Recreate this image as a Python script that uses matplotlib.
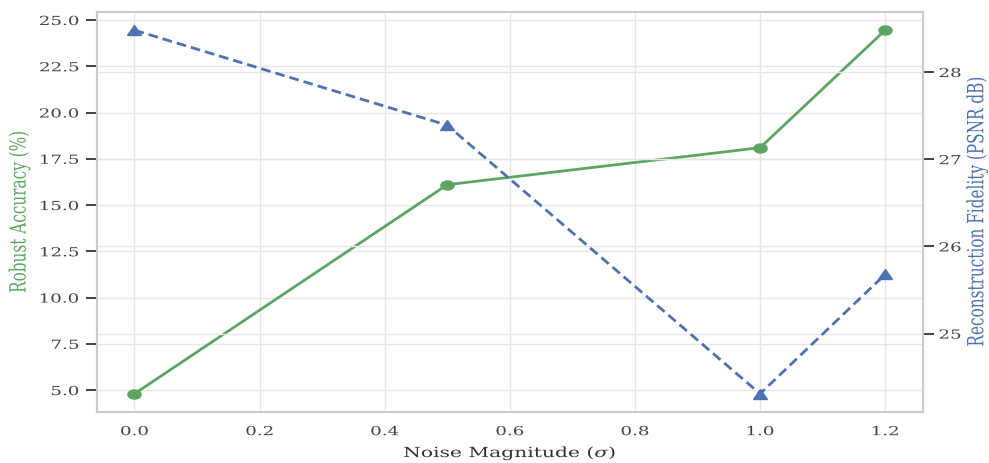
import matplotlib
matplotlib.use('Agg')
import matplotlib.pyplot as plt
from matplotlib import patheffects
from matplotlib.markers import MarkerStyle
from matplotlib.transforms import Affine2D

# data
noise = [0.0, 0.5, 1.0, 1.2]
robust_acc = [4.8, 16.1, 18.1, 24.45]
psnr = [28.48, 27.39, 24.31, 25.68]

GREEN = '#5ca661'
BLUE = '#4C72B0'
SX = 1.46  # the reference is stretched sideways


class StretchX(patheffects.AbstractPathEffect):
    def __init__(self, anchor='center', sx=SX):
        super().__init__()
        self.anchor = anchor
        self.sx = sx

    def draw_path(self, renderer, gc, tpath, affine, rgbFace=None):
        ext = tpath.get_extents(affine)
        if self.anchor == 'left':
            x0 = ext.x0
        elif self.anchor == 'right':
            x0 = ext.x1
        else:
            x0 = (ext.x0 + ext.x1) / 2
        affine = affine + Affine2D().translate(-x0, 0).scale(self.sx, 1).translate(x0, 0)
        renderer.draw_path(gc, tpath, affine, rgbFace)


plt.rcParams['font.family'] = ['DejaVu Serif']
plt.rcParams['mathtext.fontset'] = 'dejavuserif'

fig = plt.figure(figsize=(9.89, 4.64), dpi=100)
ax = fig.add_axes([0.098, 0.110, 0.835, 0.862])
ax2 = ax.twinx()

circ = MarkerStyle('o', transform=Affine2D().scale(SX, 1))
tri = MarkerStyle('^', transform=Affine2D().scale(SX, 1))

ax.plot(noise, robust_acc, color=GREEN, lw=2, marker=circ, ms=6.5)
ax2.plot(noise, psnr, color=BLUE, lw=2, ls='--', dashes=(3.5, 1.8), marker=tri, ms=7)

for a in (ax, ax2):
    a.set_facecolor('none')
    a.grid(True, color='#e6e6e6', lw=1)
    a.set_axisbelow(True)
    for s in a.spines.values():
        s.set_color('#cccccc')
        s.set_linewidth(1.5)
    a.tick_params(axis='both', labelsize=9, labelcolor='#444444')
    a.tick_params(axis='x', length=0, pad=9.5)
    a.tick_params(axis='y', length=8, width=1.3, color='#333333')
ax.tick_params(axis='y', pad=5)
ax2.tick_params(axis='y', pad=3.6)

ax.set_xlabel('Noise Magnitude ($\\sigma$)', fontsize=10, color='#333333', labelpad=3.5)
ax.set_ylabel('Robust Accuracy (%)', fontsize=11, color=GREEN, labelpad=17.5)
ax2.set_ylabel('Reconstruction Fidelity (PSNR dB)', fontsize=11, color=BLUE, labelpad=11)

fig.canvas.draw()
for lbl in ax.get_yticklabels():
    lbl.set_path_effects([StretchX('right')])
for lbl in ax2.get_yticklabels():
    lbl.set_path_effects([StretchX('left')])
for lbl in ax.get_xticklabels():
    lbl.set_path_effects([StretchX('center')])
for t in (ax.xaxis.label, ax.yaxis.label, ax2.yaxis.label):
    t.set_path_effects([StretchX('center')])

fig.savefig('out.png', dpi=100)
